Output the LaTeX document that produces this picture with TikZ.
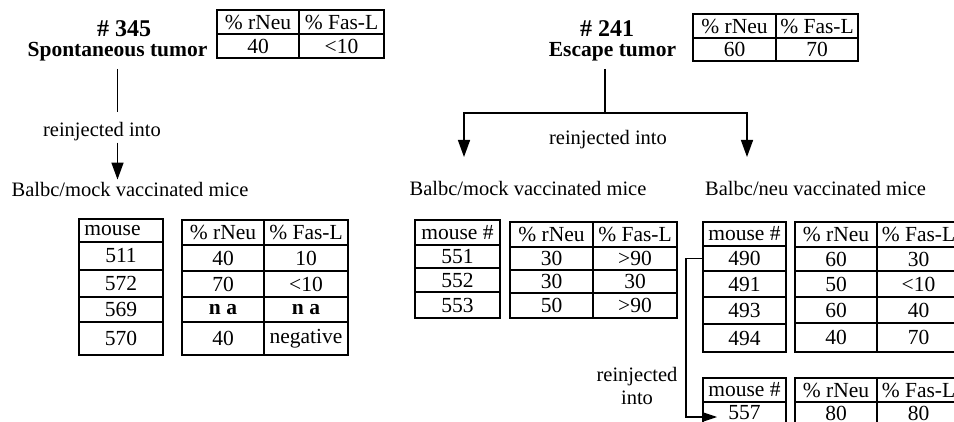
\documentclass[tikz,border=0pt]{standalone}
\usepackage{fontspec}
\setmainfont{Liberation Serif}
\usetikzlibrary{arrows.meta}

\newcommand\labfont{\fontsize{20.5}{23}\selectfont}
\newcommand\cellfont{\fontsize{21.5}{24}\selectfont}
\newcommand\numfont{\bfseries\fontsize{24}{28}\selectfont}
\newcommand\kindfont{\bfseries\fontsize{21.5}{25}\selectfont}

% one table cell: name, left, top, right, bottom, text
\newcommand\cellbox[6]{%
  \node[cell, minimum width={#4-#2}, minimum height={#5-#3}]
    (#1) at ({(#2+#4)/2},{(#3+#5)/2}) {#6};}

\begin{document}
\begin{tikzpicture}[x=1pt,y=-1pt,
  lbl/.style={inner sep=0pt, anchor=base, font=\labfont},
  numlbl/.style={inner sep=0pt, anchor=base, font=\numfont},
  kindlbl/.style={inner sep=0pt, anchor=base, font=\kindfont},
  cell/.style={draw, line width=1.8pt, inner sep=0pt, font=\cellfont},
  conn/.style={line width=1.5pt},
  arr/.style={conn, -{Triangle[length=17pt,width=12pt]}},
  arrsmall/.style={conn, -{Triangle[length=14pt,width=9pt]}}]
\useasboundingbox (0,0) rectangle (954,422);

% ---- tumor #345 ----
\node[numlbl] (n345) at (124,37) {\# 345};
\node[kindlbl] (spont) at (117.5,57) {Spontaneous tumor};
\cellbox{tlh1}{217}{10}{299}{34}{\% rNeu}
\cellbox{tlh2}{299}{10}{384}{34}{\% Fas-L}
\cellbox{tld1}{217}{34}{299}{58}{40}
\cellbox{tld2}{299}{34}{384}{58}{<10}

\node[lbl] (rj1) at (102,137) {reinjected into};
\node[lbl] (mock1) at (130,197) {Balbc/mock vaccinated mice};
\draw[conn, shorten <=7pt, shorten >=11pt] (spont.south) -- (spont.south |- rj1.north);
\draw[arr, shorten <=1pt, shorten >=3pt] (spont.south |- rj1.south) -- (spont.south |- mock1.north);

% mice of the mock group
\cellbox{lm0}{79}{219}{163}{242}{\hspace*{-17pt}mouse}
\cellbox{lm1}{79}{242}{163}{270}{511}
\cellbox{lm2}{79}{270}{163}{297}{572}
\cellbox{lm3}{79}{297}{163}{322}{569}
\cellbox{lm4}{79}{322}{163}{355}{570}
\cellbox{ldh1}{182}{220}{264}{245}{\% rNeu}
\cellbox{ldh2}{264}{220}{348}{245}{\% Fas-L}
\cellbox{ld1a}{182}{245}{264}{271}{40}
\cellbox{ld1b}{264}{245}{348}{271}{10}
\cellbox{ld2a}{182}{271}{264}{297}{70}
\cellbox{ld2b}{264}{271}{348}{297}{<10}
\cellbox{ld3a}{182}{297}{264}{322}{\textbf{n a}}
\cellbox{ld3b}{264}{297}{348}{322}{\textbf{n a}}
\cellbox{ld4a}{182}{322}{264}{355}{40}
\cellbox{ld4b}{264}{322}{348}{355}{negative}

% ---- tumor #241 ----
\node[numlbl] (n241) at (607,37) {\# 241};
\node[kindlbl] (esc) at (612.5,57) {Escape tumor};
\cellbox{trh1}{693}{14}{776}{38}{\% rNeu}
\cellbox{trh2}{776}{14}{858}{38}{\% Fas-L}
\cellbox{trd1}{693}{38}{776}{61}{60}
\cellbox{trd2}{776}{38}{858}{61}{70}

\node[lbl] (rj2) at (608,145) {reinjected into};
\node[lbl] (mock2) at (528,196) {Balbc/mock vaccinated mice};
\node[lbl, anchor=base west] (neu) at (705,196) {Balbc/neu vaccinated mice};
\coordinate (j0) at (605,113);
\coordinate (a2) at (464,157);
\coordinate (a3) at (747,157);
\draw[conn, shorten <=7pt] (esc.south -| j0) -- (j0);
\draw[arr] (j0) -| (a2);
\draw[arr] (j0) -| (a3);

% mock vaccinated group
\cellbox{mm0}{415}{220}{500}{245}{mouse \#}
\cellbox{mm1}{415}{245}{500}{268}{551}
\cellbox{mm2}{415}{268}{500}{292}{552}
\cellbox{mm3}{415}{292}{500}{318}{553}
\cellbox{mdh1}{510}{222}{593}{247}{\% rNeu}
\cellbox{mdh2}{593}{222}{677}{247}{\% Fas-L}
\cellbox{md1a}{510}{247}{593}{270}{30}
\cellbox{md1b}{593}{247}{677}{270}{>90}
\cellbox{md2a}{510}{270}{593}{293}{30}
\cellbox{md2b}{593}{270}{677}{293}{30}
\cellbox{md3a}{510}{293}{593}{318}{50}
\cellbox{md3b}{593}{293}{677}{318}{>90}

% neu vaccinated group
\cellbox{rm0}{703}{222}{786}{246}{mouse \#}
\cellbox{rm1}{703}{246}{786}{271}{490}
\cellbox{rm2}{703}{271}{786}{297}{491}
\cellbox{rm3}{703}{297}{786}{324}{493}
\cellbox{rm4}{703}{324}{786}{352}{494}
\cellbox{rdh1}{795}{222}{877}{247}{\% rNeu}
\cellbox{rdh2}{877}{222}{960}{247}{\% Fas-L}
\cellbox{rd1a}{795}{247}{877}{271}{60}
\cellbox{rd1b}{877}{247}{960}{271}{30}
\cellbox{rd2a}{795}{271}{877}{297}{50}
\cellbox{rd2b}{877}{271}{960}{297}{<10}
\cellbox{rd3a}{795}{297}{877}{323}{60}
\cellbox{rd3b}{877}{297}{960}{323}{40}
\cellbox{rd4a}{795}{323}{877}{352}{40}
\cellbox{rd4b}{877}{323}{960}{352}{70}

% second passage of mouse 490
\cellbox{bm0}{703}{378}{786}{402}{mouse \#}
\cellbox{bm1}{703}{402}{786}{424}{557}
\cellbox{bdh1}{795}{378}{877}{402}{\% rNeu}
\cellbox{bdh2}{877}{378}{960}{402}{\% Fas-L}
\cellbox{bd1a}{795}{402}{877}{424}{80}
\cellbox{bd1b}{877}{402}{960}{424}{80}

\node[lbl, anchor=center, align=center] (rj3) at (637,386) {reinjected\\into};
\draw[arrsmall] (rm1.west) -- ++(-16,0) |- ([xshift=15pt,yshift=-4pt]bm1.west);
\end{tikzpicture}
\end{document}
